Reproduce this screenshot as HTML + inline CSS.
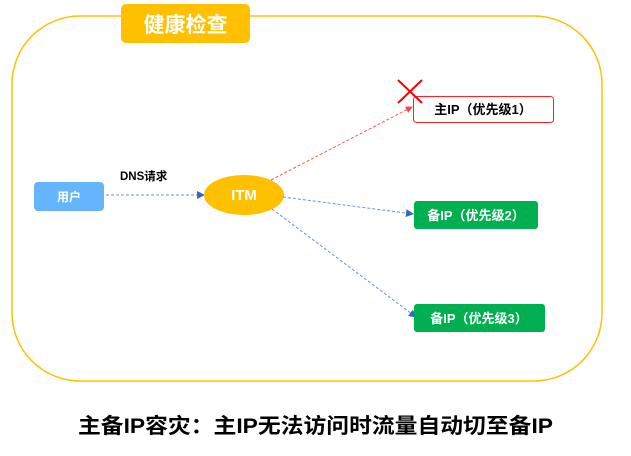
<!DOCTYPE html>
<html><head><meta charset="utf-8"><style>
body{margin:0;width:631px;height:456px;background:#fff;overflow:hidden;font-family:"Liberation Sans","Noto Sans CJK SC",sans-serif;}
</style></head><body>
<svg width="631" height="456" viewBox="0 0 631 456" xmlns="http://www.w3.org/2000/svg" style="position:absolute;left:0;top:0">
<defs>
<marker id="ab" markerWidth="8" markerHeight="8" refX="7" refY="4" orient="auto" markerUnits="userSpaceOnUse"><path d="M0,0 L8,4 L0,8 z" fill="#3366cc"/></marker>
<marker id="ar" markerWidth="7" markerHeight="7" refX="6" refY="3.5" orient="auto" markerUnits="userSpaceOnUse"><path d="M0,0 L7,3.5 L0,7 z" fill="#ff4444"/></marker>
</defs>
<rect x="12" y="16" width="590" height="365" rx="68" ry="68" fill="none" stroke="#ffc000" stroke-width="1.5"/>
<rect x="121" y="4" width="129" height="39" rx="5" fill="#ffc000"/>
<text x="185.5" y="32" font-size="21" font-weight="bold" fill="#fff" text-anchor="middle">健康检查</text>
<rect x="34" y="182" width="70" height="29" rx="4" fill="#64b5fc"/>
<text x="69" y="201" font-size="12" font-weight="bold" fill="#fff" text-anchor="middle">用户</text>
<text x="120" y="180" font-size="11.5" font-weight="bold" fill="#000">DNS请求</text>
<line x1="106" y1="195" x2="204" y2="195" stroke="#6f8fd8" stroke-width="1" stroke-dasharray="3,2" marker-end="url(#ab)"/>
<ellipse cx="244" cy="195" rx="40" ry="20" fill="#ffc000"/>
<text x="244" y="200" font-size="15" font-weight="bold" fill="#fff" text-anchor="middle">ITM</text>
<line x1="271" y1="180" x2="412" y2="107" stroke="#ff5555" stroke-width="1" stroke-dasharray="3,2" marker-end="url(#ar)"/>
<line x1="283" y1="197" x2="413" y2="214" stroke="#6f8fd8" stroke-width="1" stroke-dasharray="3,2" marker-end="url(#ab)"/>
<line x1="272" y1="209" x2="416" y2="317" stroke="#6f8fd8" stroke-width="1" stroke-dasharray="3,2" marker-end="url(#ab)"/>
<rect x="413.5" y="96.5" width="140" height="26" rx="3" fill="#fff" stroke="#ff2222" stroke-width="1"/>
<text x="483" y="114" font-size="13" font-weight="bold" fill="#000" text-anchor="middle">主IP（优先级1）</text>
<line x1="398" y1="80" x2="422" y2="103" stroke="#ff0000" stroke-width="2"/>
<line x1="422" y1="80" x2="398" y2="103" stroke="#ff0000" stroke-width="2"/>
<rect x="414" y="201" width="124" height="28" rx="3" fill="#00b050"/>
<text x="476" y="220" font-size="13" font-weight="bold" fill="#fff" text-anchor="middle">备IP（优先级2）</text>
<rect x="414" y="304" width="131" height="28" rx="3" fill="#00b050"/>
<text x="479" y="323" font-size="13" font-weight="bold" fill="#fff" text-anchor="middle">备IP（优先级3）</text>
<text x="78" y="433" font-size="21" font-weight="bold" fill="#000" textLength="475" lengthAdjust="spacingAndGlyphs">主备IP容灾：主IP无法访问时流量自动切至备IP</text>
</svg>
</body></html>
